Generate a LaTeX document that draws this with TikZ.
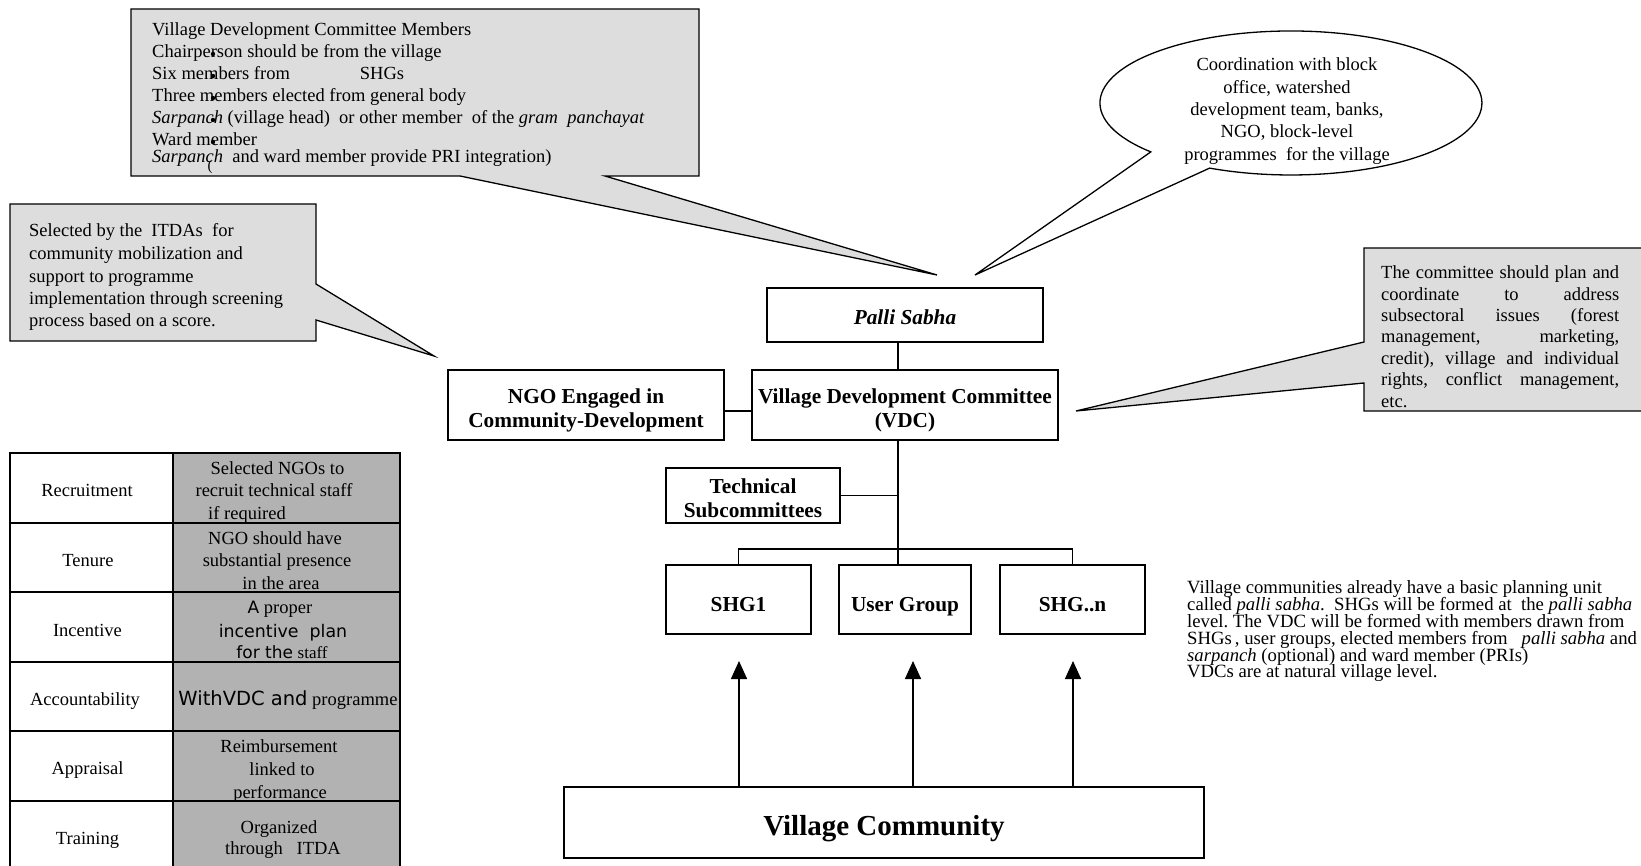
\documentclass[tikz,border=0pt]{standalone}
\usepackage{fontspec}
\setmainfont{Liberation Serif}
\newfontfamily\cellsans{DejaVu Sans}
\usetikzlibrary{arrows.meta}
\frenchspacing

\definecolor{balloongray}{RGB}{221,221,221}
\definecolor{cellgray}{RGB}{178,178,178}
\newcommand\sink[1]{\rule{0pt}{#1}}

\tikzset{
  txt/.style={font=\fontsize{18.5}{22}\selectfont, inner sep=0pt,
    text height=13pt, text depth=4pt},
  orgbox/.style={draw, line width=1.7pt, fill=white, inner sep=0pt,
    align=center, font=\bfseries\fontsize{21.3}{24}\selectfont},
  balloon/.style={draw, line width=1.3pt, fill=balloongray},
  link/.style={line width=1.4pt},
  rise/.style={line width=1.5pt, -{Triangle[width=16pt,length=18pt]}},
  grid/.style={line width=1.8pt}
}

\begin{document}
\begin{tikzpicture}[x=1pt,y=-1pt]
\path[use as bounding box, fill=white] (0,0) rectangle (1641,866);

% callouts
\coordinate (tipA) at (937,275);
\coordinate (tipB) at (975,275);
\coordinate (tipC) at (1076,411);
\coordinate (tipD) at (434,356);
\draw[balloon] (131,9) -- (699,9) -- (699,176) -- (605,176) -- (tipA)
  -- (460,176) -- (131,176) -- cycle;
\draw[balloon] (10,204) -- (316,204) -- (316,284) -- (tipD) -- (316,320)
  -- (316,341) -- (10,341) -- cycle;
\draw[balloon] (1364,248) -- (1646,248) -- (1646,411) -- (1364,411)
  -- (1364,383) -- (tipC) -- (1364,342) -- cycle;
\draw[balloon, fill=white] (1150.8,151.9) arc[start angle=137.2,
  end angle=475.2, x radius=191, y radius=72] -- (tipB) -- cycle;

\node[txt, right] (m1) at (152,31) {Village Development Committee Members};
\node[txt, right] (m2) at (152,53) {Chairperson should be from the village};
\node[txt, right] (m3) at (152,75) {Six members from\hspace{70pt}SHGs};
\node[txt, right] (m4) at (152,97) {Three members elected from general body};
\node[txt, right] (m5) at (152,119) {\textit{Sarpanch} (village head)\ \ or other member\ \ of the \textit{gram\ \ panchayat}};
\node[txt, right] (m6) at (152,141) {Ward member};
\node[txt, right] (m7) at (152,158) {\textit{Sarpanch}\ \ and ward member provide PRI integration)};
\foreach \y in {54,76,98,120,142}
  \fill (213,\y) circle (2.2);
\node[txt, font=\fontsize{15}{18}\selectfont] (m8) at (210,166) {(};

\node[txt, right] (s1) at (29,232) {Selected by the\ \ ITDAs\ \ for};
\node[txt, right] (s2) at (29,255) {community mobilization and};
\node[txt, right] (s3) at (29,278) {support to programme};
\node[txt, right] (s4) at (29,300) {implementation through screening};
\node[txt, right] (s5) at (29,322) {process based on a score.};

\node[txt, right] (p1) at (1381,274) {\makebox[238pt][s]{The committee should plan and}};
\node[txt, right] (p2) at (1381,296) {\makebox[238pt][s]{coordinate to address}};
\node[txt, right] (p3) at (1381,317) {\makebox[238pt][s]{subsectoral issues (forest}};
\node[txt, right] (p4) at (1381,338) {\makebox[238pt][s]{management, marketing,}};
\node[txt, right] (p5) at (1381,360) {\makebox[238pt][s]{credit), village and individual}};
\node[txt, right] (p6) at (1381,381) {\makebox[238pt][s]{rights, conflict management,}};
\node[txt, right] (p7) at (1381,403) {etc.};

\node[align=center, inner sep=0pt, font=\fontsize{18.5}{22.3}\selectfont]
  (coord) at (1287,111) {Coordination with block\\ office, watershed\\
  development team, banks,\\ NGO, block-level\\ programmes\ \ for the village};

% organisation chart
\node[orgbox, minimum width=276, minimum height=54] (palli) at (905,315) {\sink{18.5pt}\textit{Palli Sabha}};
\node[orgbox, minimum width=306, minimum height=70] (vdc) at (905,405) {\sink{25pt}Village Development Committee\\(VDC)};
\node[orgbox, minimum width=276, minimum height=70] (ngo) at (586,405) {\sink{25pt}NGO Engaged in\\Community-Development};
\node[orgbox, minimum width=174, minimum height=55] (tech) at (753,495.5) {\sink{19.5pt}Technical\\Subcommittees};
\node[orgbox, minimum width=145, minimum height=69] (shg1) at (738.5,599.5) {\rule[-5pt]{0pt}{33pt}SHG1};
\node[orgbox, minimum width=132, minimum height=69] (user) at (905,599.5) {\rule[-5pt]{0pt}{33pt}User Group};
\node[orgbox, minimum width=145, minimum height=69] (shgn) at (1072.5,599.5) {\rule[-5pt]{0pt}{33pt}SHG..n};
\node[orgbox, minimum width=640, minimum height=71,
  font=\bfseries\fontsize{29}{34}\selectfont] (vc) at (884,822.5) {\sink{32pt}Village Community};

\coordinate (trunk) at (898,0);
\coordinate (bar) at (898,549);
\draw[link] (palli.south -| trunk) -- (vdc.north -| trunk);
\draw[link] ([yshift=-6pt]ngo.east) -- ([yshift=-6pt]vdc.west);
\draw[link] (vdc.south -| trunk) -- (user.north -| trunk);
\draw[link] (tech.east) -- (tech.east -| trunk);
\draw[link] (shg1.north) |- (bar) -| (shgn.north);

\coordinate (up1) at (739,661);
\coordinate (up2) at (913,661);
\coordinate (up3) at (1073,661);
\draw[rise] (vc.north -| up1) -- (up1);
\draw[rise] (vc.north -| up2) -- (up2);
\draw[rise] (vc.north -| up3) -- (up3);

% table
\fill[cellgray] (173,453) rectangle (400,872);
\draw[grid] (10,453) rectangle (400,872);
\draw[grid] (173,453) -- (173,872);
\foreach \y in {523,592,662,731,801}
  \draw[grid] (10,\y) -- (400,\y);

\node[txt] (t1) at (87,492) {Recruitment};
\node[txt] (t2) at (88,562) {Tenure};
\node[txt] (t3) at (87.5,632) {Incentive};
\node[txt] (t4) at (85,701) {Accountability};
\node[txt] (t5) at (87.5,770) {Appraisal};
\node[txt] (t6) at (87.5,840) {Training};

\node[txt] (c1a) at (277.5,470) {Selected NGOs to};
\node[txt] (c1b) at (274,492) {recruit technical staff};
\node[txt] (c1c) at (247,515) {if required};
\node[txt] (c2a) at (275,540) {NGO should have};
\node[txt] (c2b) at (277,562) {substantial presence};
\node[txt] (c2c) at (281,585) {in the area};
\node[txt] (c3a) at (280,609) {{\cellsans\fontsize{17}{20}\selectfont A}\ proper};
\node[txt] (c3b) at (283,633) {\cellsans\fontsize{17.4}{20}\selectfont incentive\ \ plan};
\node[txt] (c3c) at (282,654) {{\cellsans\fontsize{17}{20}\selectfont for the}\ {\fontsize{17}{20}\selectfont staff}};
\node[txt] (c4a) at (288,701) {{\cellsans\fontsize{19.5}{22}\selectfont WithVDC and}\ programme};
\node[txt] (c5a) at (279,748) {Reimbursement};
\node[txt] (c5b) at (282,771) {linked to};
\node[txt] (c5c) at (280,794) {performance};
\node[txt] (c6a) at (279,829) {Organized};
\node[txt] (c6b) at (283,850) {through\ \ \ ITDA};

% note
\tikzset{txt/.append style={font=\fontsize{18.7}{22}\selectfont}}
\node[txt, right] (n1) at (1187,589) {Village communities already have a basic planning unit};
\node[txt, right] (n2) at (1187,606) {called \textit{palli sabha}.\ \ SHGs will be formed at\ \ the \textit{palli sabha}};
\node[txt, right] (n3) at (1187,623) {level. The VDC will be formed with members drawn from};
\node[txt, right] (n4) at (1187,640) {SHGs\,, user groups, elected members from\ \ \ \textit{palli sabha} and};
\node[txt, right] (n5) at (1187,657) {\textit{sarpanch} (optional) and ward member (PRIs)};
\node[txt, right] (n6) at (1187,673) {VDCs are at natural village level.};
\end{tikzpicture}
\end{document}
